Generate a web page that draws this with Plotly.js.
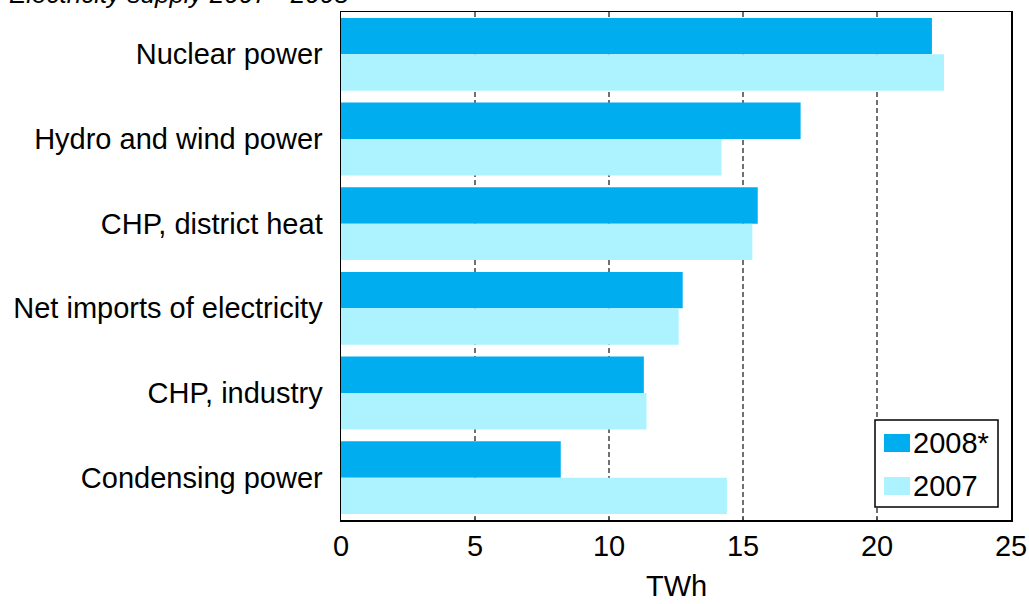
<!DOCTYPE html>
<html>
<head>
<meta charset="utf-8">
<script src="https://cdn.plot.ly/plotly-3.0.1.min.js"></script>
<style>
  html, body { margin: 0; padding: 0; background: #ffffff; }
  #chart { width: 1029px; height: 604px; }
</style>
</head>
<body>
<div id="chart"></div>
<script>
// Electricity supply by source, TWh
var categories = [
  'Nuclear power',
  'Hydro and wind power',
  'CHP, district heat',
  'Net imports of electricity',
  'CHP, industry',
  'Condensing power'
];
var values2008 = [22.05, 17.15, 15.55, 12.75, 11.3, 8.2];
var values2007 = [22.5, 14.2, 15.35, 12.6, 11.4, 14.4];
var seriesNames = ['2008*', '2007'];
var xTicks = [0, 5, 10, 15, 20, 25];
var chartTitle = 'Electricity supply 2007 - 2008';
var xTitle = 'TWh';

var colors = ['#00AEEF', '#ADF3FF'];
var FONT = 'Liberation Sans, Arial, sans-serif';
var FS = 29;

var traces = [
  {
    type: 'bar', orientation: 'h', name: seriesNames[0],
    y: categories, x: values2008,
    marker: { color: colors[0], line: { width: 0 } },
    hoverinfo: 'x+name'
  },
  {
    type: 'bar', orientation: 'h', name: seriesNames[1],
    y: categories, x: values2007,
    marker: { color: colors[1], line: { width: 0 } },
    hoverinfo: 'x+name'
  }
];

// plot area in page pixels: x 341..1011, y 12..520
var L = 341, R = 1011, T = 12, B = 520;
function px(x) { return (x - L) / (R - L); }
function py(y) { return (B - y) / (B - T); }

// hand-drawn legend box with wide swatches
var shapes = [
  { type: 'rect', xref: 'paper', yref: 'paper',
    x0: px(875), x1: px(998), y0: py(507), y1: py(420),
    line: { color: '#000000', width: 1.5 }, fillcolor: '#ffffff', layer: 'above' },
  { type: 'rect', xref: 'paper', yref: 'paper',
    x0: px(884), x1: px(910), y0: py(452), y1: py(434),
    line: { width: 0 }, fillcolor: colors[0], layer: 'above' },
  { type: 'rect', xref: 'paper', yref: 'paper',
    x0: px(884), x1: px(910), y0: py(495), y1: py(477),
    line: { width: 0 }, fillcolor: colors[1], layer: 'above' }
];

var annotations = [
  { xref: 'paper', yref: 'paper', x: px(911), y: py(443),
    xanchor: 'left', yanchor: 'middle', showarrow: false,
    text: seriesNames[0], font: { family: FONT, size: FS, color: '#000' } },
  { xref: 'paper', yref: 'paper', x: px(911), y: py(486),
    xanchor: 'left', yanchor: 'middle', showarrow: false,
    text: seriesNames[1], font: { family: FONT, size: FS, color: '#000' } },
  // x-axis title
  { xref: 'paper', yref: 'paper', x: 0.5, y: py(586),
    xanchor: 'center', yanchor: 'middle', showarrow: false, borderpad: 0,
    text: xTitle, font: { family: FONT, size: FS, color: '#000' } },
  // chart title, partly above the top edge
  { xref: 'paper', yref: 'paper', x: px(7), y: py(-6),
    xanchor: 'left', yanchor: 'middle', showarrow: false,
    text: '<i>' + chartTitle + '</i>',
    font: { family: FONT, size: 26, color: '#000' } }
];

var layout = {
  width: 1029, height: 604,
  margin: { l: L, r: 1029 - R, t: T, b: 604 - B, pad: 0 },
  paper_bgcolor: '#ffffff', plot_bgcolor: '#ffffff',
  font: { family: FONT, size: FS, color: '#000000' },
  barmode: 'group', bargap: 0.14, bargroupgap: 0,
  showlegend: false,
  xaxis: {
    range: [0, 25], tickvals: xTicks, ticktext: xTicks.map(String),
    showgrid: true, gridcolor: '#707070', gridwidth: 1.5, griddash: '5px,3px',
    zeroline: false,
    showline: true, linecolor: '#000000', linewidth: 1.5, mirror: true,
    ticks: 'inside', ticklen: 3, tickcolor: '#555555', tickwidth: 1.5,
    tickfont: { family: FONT, size: FS, color: '#000' },
    fixedrange: true
  },
  yaxis: {
    autorange: 'reversed', type: 'category',
    showgrid: false, zeroline: false,
    showline: true, linecolor: '#000000', linewidth: 1.5, mirror: true,
    ticks: '', ticklabelstandoff: 11,
    tickfont: { family: FONT, size: FS, color: '#000' },
    fixedrange: true
  },
  shapes: shapes,
  annotations: annotations
};

Plotly.newPlot('chart', traces, layout, { displayModeBar: false, staticPlot: true });
</script>
</body>
</html>
